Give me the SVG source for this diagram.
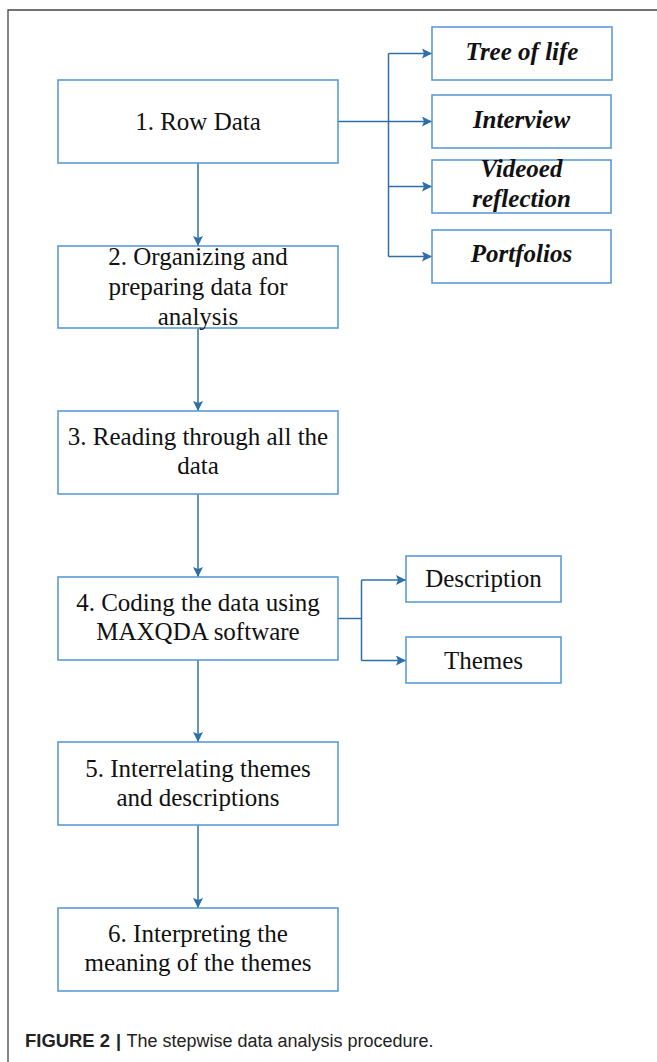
<svg xmlns="http://www.w3.org/2000/svg" width="657" height="1062" viewBox="0 0 657 1062">
<defs>
<marker id="ah" viewBox="0 0 10 10" refX="10" refY="5" markerWidth="10" markerHeight="10" markerUnits="userSpaceOnUse" orient="auto">
<path d="M0,0 L10,5 L0,10 L2,5 z" fill="#2f6fa8"/>
</marker>
<style>
.box{fill:#fff;stroke:#5b9bd5;stroke-width:1.6}
.t{font-family:"Liberation Serif",serif;font-size:25px;fill:#111;text-anchor:middle}
.ti{font-family:"Liberation Serif",serif;font-size:25px;font-style:italic;font-weight:bold;fill:#111;text-anchor:middle}
.c{fill:none;stroke:#2f6fa8;stroke-width:1.5}
.ca{fill:none;stroke:#2f6fa8;stroke-width:1.5;marker-end:url(#ah)}
.cap{font-family:"Liberation Sans",sans-serif;font-size:18px;fill:#222}
</style>
</defs>
<rect width="657" height="1062" fill="#fff"/>
<path d="M8,1062 V10 H657" fill="none" stroke="#444" stroke-width="1.3"/>
<g id="connectors">
<path class="ca" d="M198,163 V246"/>
<path class="ca" d="M198,328 V411"/>
<path class="ca" d="M198,494 V577"/>
<path class="ca" d="M198,660 V742"/>
<path class="ca" d="M198,825 V908"/>
<path class="c" d="M338,121.5 H388.5"/>
<path class="c" d="M388.5,53.5 V256.5"/>
<path class="ca" d="M388.5,53.5 H432"/>
<path class="ca" d="M388.5,121.5 H432"/>
<path class="ca" d="M388.5,186.5 H432"/>
<path class="ca" d="M388.5,256.5 H432"/>
<path class="c" d="M338,618.5 H361.5"/>
<path class="c" d="M361.5,580 V660.5"/>
<path class="ca" d="M361.5,580 H406"/>
<path class="ca" d="M361.5,660.5 H406"/>
</g>
<g id="n1"><rect class="box" x="58" y="80" width="280" height="83"/><text class="t" x="198" y="129.5">1. Row Data</text></g>
<g id="n2"><rect class="box" x="58" y="246" width="280" height="82"/><text class="t" x="198" y="265">2. Organizing and</text><text class="t" x="198" y="294.5">preparing data for</text><text class="t" x="198" y="324.5">analysis</text></g>
<g id="n3"><rect class="box" x="58" y="411" width="280" height="83"/><text class="t" x="198" y="445">3. Reading through all the</text><text class="t" x="198" y="474">data</text></g>
<g id="n4"><rect class="box" x="58" y="577" width="280" height="83"/><text class="t" x="198" y="611">4. Coding the data using</text><text class="t" x="198" y="640">MAXQDA software</text></g>
<g id="n5"><rect class="box" x="58" y="742" width="280" height="83"/><text class="t" x="198" y="777">5. Interrelating themes</text><text class="t" x="198" y="806">and descriptions</text></g>
<g id="n6"><rect class="box" x="58" y="908" width="280" height="83"/><text class="t" x="198" y="942">6. Interpreting the</text><text class="t" x="198" y="971">meaning of the themes</text></g>
<g id="r1"><rect class="box" x="432" y="27" width="180" height="53"/><text class="ti" x="522" y="60">Tree of life</text></g>
<g id="r2"><rect class="box" x="432" y="95" width="179" height="53"/><text class="ti" x="521.5" y="127.5">Interview</text></g>
<g id="r3"><rect class="box" x="432" y="160" width="179" height="53"/><text class="ti" x="521.5" y="177">Videoed</text><text class="ti" x="521.5" y="206.5">reflection</text></g>
<g id="r4"><rect class="box" x="432" y="230" width="179" height="53"/><text class="ti" x="521.5" y="261.5">Portfolios</text></g>
<g id="d1"><rect class="box" x="406" y="556" width="155" height="46"/><text class="t" x="483.5" y="587">Description</text></g>
<g id="d2"><rect class="box" x="406" y="637" width="155" height="46"/><text class="t" x="483.5" y="668.5">Themes</text></g>
<text class="cap" x="25" y="1047"><tspan font-weight="bold" textLength="85" lengthAdjust="spacingAndGlyphs">FIGURE 2</tspan><tspan x="116" font-weight="bold">|</tspan><tspan x="126.5" textLength="307" lengthAdjust="spacingAndGlyphs">The stepwise data analysis procedure.</tspan></text>
</svg>
